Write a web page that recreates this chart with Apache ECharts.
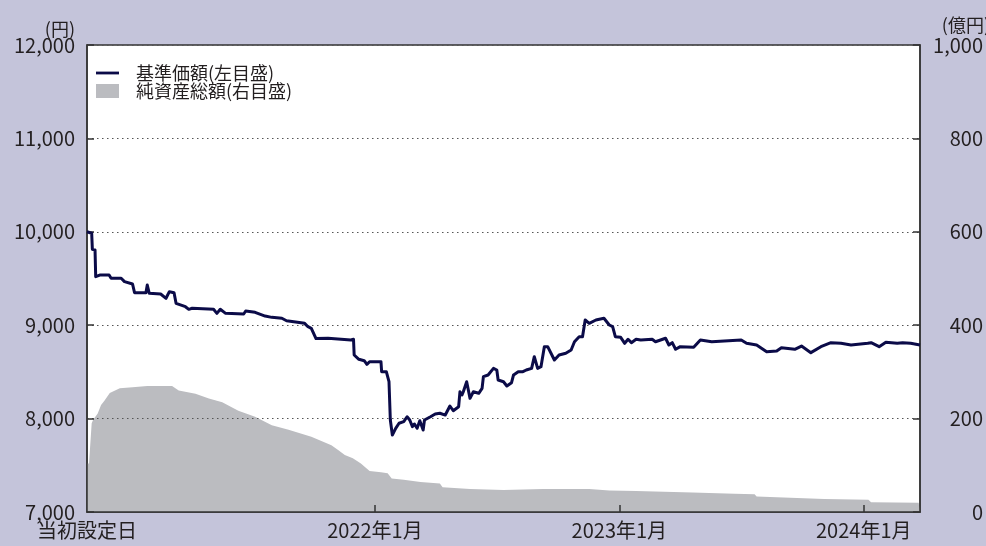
<!DOCTYPE html>
<html>
<head>
<meta charset="utf-8">
<script src="https://cdn.jsdelivr.net/npm/echarts@6/dist/echarts.min.js"></script>
<style>
html,body{margin:0;padding:0;background:#c4c4da;width:986px;height:546px;overflow:hidden;}
#main{width:986px;height:546px;}
</style>
</head>
<body>
<div id="main"></div>
<script>
// ---- Data ----
const seriesNames = ['基準価額(左目盛)', '純資産総額(右目盛)'];
const startDate = '2020-10-28';
const endDate = '2024-03-25';
const tickDates = ['2022-01-01', '2023-01-01', '2024-01-01'];
const tickLabels = ['当初設定日', '2022年1月', '2023年1月', '2024年1月'];
const leftTicks = [7000, 8000, 9000, 10000, 11000, 12000];
const rightTicks = [0, 200, 400, 600, 800, 1000];

const navDates = [
'2020-10-28','2020-11-04','2020-11-05','2020-11-09','2020-11-10','2020-11-16','2020-11-30','2020-12-03','2020-12-18','2020-12-23',
'2021-01-04','2021-01-07','2021-01-24','2021-01-26','2021-01-29','2021-02-15','2021-02-23','2021-02-28','2021-03-07','2021-03-10',
'2021-03-24','2021-03-29','2021-04-03','2021-05-05','2021-05-10','2021-05-15','2021-05-23','2021-06-19','2021-06-22','2021-07-06',
'2021-07-21','2021-07-31','2021-08-15','2021-08-22','2021-09-18','2021-09-23','2021-09-28','2021-10-05','2021-10-23','2021-11-26',
'2021-11-30','2021-12-01','2021-12-08','2021-12-16','2021-12-20','2021-12-24','2022-01-10','2022-01-11','2022-01-18','2022-01-22',
'2022-01-24','2022-01-27','2022-01-29','2022-02-01','2022-02-06','2022-02-13','2022-02-18','2022-02-22','2022-02-26','2022-03-01',
'2022-03-05','2022-03-09','2022-03-14','2022-03-16','2022-03-25','2022-04-01','2022-04-08','2022-04-16','2022-04-23','2022-04-28',
'2022-05-06','2022-05-08','2022-05-11','2022-05-13','2022-05-18','2022-05-23','2022-05-28','2022-06-05','2022-06-10','2022-06-12',
'2022-06-19','2022-06-27','2022-07-02','2022-07-04','2022-07-12','2022-07-17','2022-07-24','2022-07-27','2022-08-03','2022-08-10',
'2022-08-15','2022-08-23','2022-08-27','2022-09-01','2022-09-06','2022-09-11','2022-09-16','2022-09-26','2022-10-03','2022-10-13',
'2022-10-21','2022-10-26','2022-11-02','2022-11-07','2022-11-11','2022-11-17','2022-11-27','2022-12-09','2022-12-17','2022-12-22',
'2022-12-26','2023-01-03','2023-01-09','2023-01-14','2023-01-19','2023-01-26','2023-02-02','2023-02-19','2023-02-24','2023-03-11',
'2023-03-16','2023-03-21','2023-03-26','2023-04-02','2023-04-22','2023-05-02','2023-05-19','2023-07-02','2023-07-10','2023-07-25',
'2023-08-09','2023-08-24','2023-08-31','2023-09-20','2023-09-30','2023-10-14','2023-10-29','2023-11-13','2023-11-28','2023-12-13',
'2024-01-07','2024-01-12','2024-01-24','2024-02-03','2024-02-20','2024-02-28','2024-03-11','2024-03-25'
];
const navValues = [
10000,9984,9813,9805,9519,9537,9537,9502,9502,9466,
9441,9348,9348,9430,9341,9334,9288,9359,9348,9234,
9198,9170,9181,9170,9127,9170,9127,9120,9152,9138,
9098,9084,9074,9048,9020,8984,8967,8857,8860,8841,
8849,8681,8635,8620,8581,8609,8609,8502,8502,8395,
7985,7824,7806,7896,7950,7967,8020,7985,7913,7942,
7896,7977,7878,7985,8020,8049,8057,8038,8135,8084,
8127,8288,8253,8288,8395,8217,8288,8271,8324,8449,
8467,8538,8520,8413,8395,8349,8384,8467,8502,8502,
8520,8538,8663,8538,8556,8770,8770,8627,8681,8699,
8734,8823,8877,8877,9056,9020,9056,9074,9002,8984,
8877,8870,8806,8849,8813,8849,8841,8849,8823,8860,
8788,8813,8742,8770,8763,8841,8823,8841,8806,8788,
8716,8724,8759,8742,8777,8706,8770,8813,8806,8788,
8806,8813,8770,8817,8806,8813,8806,8788
];

const assetDates = [
'2020-10-28','2020-10-31','2020-11-04','2020-11-06','2020-11-13','2020-11-18','2020-11-23','2020-12-01','2020-12-16','2021-01-04',
'2021-01-26','2021-03-04','2021-03-14','2021-04-08','2021-04-28','2021-05-18','2021-06-11','2021-07-06','2021-07-31','2021-08-25',
'2021-09-28','2021-10-28','2021-11-07','2021-11-17','2021-11-29','2021-12-11','2021-12-24','2022-01-10','2022-01-20','2022-01-26',
'2022-02-13','2022-03-10','2022-04-08','2022-04-12','2022-05-23','2022-07-12','2022-09-09','2022-11-17','2022-12-17','2023-01-26',
'2023-04-20','2023-06-22','2023-07-22','2023-07-25','2023-11-03','2024-01-08','2024-01-12','2024-03-23','2024-03-25'
];
const assetValues = [
104,104,190,197,211,229,238,255,265,267,
270,270,260,253,243,235,217,204,186,176,
161,143,133,122,115,104,88,85,83,72,
69,64,61,53,49,47,49,49,46,45,
42,39,38,33,28,26,21,20,20
];

// ---- Chart ----
const FONT = '"Noto Sans CJK JP", "Noto Sans", sans-serif';
const TXT = '#231f20';
const toTime = d => Date.parse(d + 'T00:00:00Z');
const navData = navDates.map((d, i) => [toTime(d), navValues[i]]);
const assetData = assetDates.map((d, i) => [toTime(d), assetValues[i]]);
const tickTimes = tickDates.map(toTime);
const startTime = toTime(startDate);
const endTime = toTime(endDate);
const labelTimes = [startTime].concat(tickTimes);
const fmt = v => String(v).replace(/\B(?=(\d{3})+(?!\d))/g, ',');

const chart = echarts.init(document.getElementById('main'), null, {renderer: 'canvas', width: 986, height: 546});
chart.setOption({
  animation: false,
  backgroundColor: '#c4c4da',
  textStyle: {fontFamily: FONT},
  grid: {left: 87, right: 59, top: 45, bottom: 34, show: true, backgroundColor: '#ffffff', borderColor: '#333', borderWidth: 1.5, z: -3},
  legend: {
    left: 96, top: 64, orient: 'vertical', itemWidth: 23, itemHeight: 14, itemGap: 0, padding: 0,
    selectedMode: false, symbolKeepAspect: true,
    textStyle: {fontFamily: FONT, fontSize: 18, color: TXT, lineHeight: 17, padding: [0, 0, 0, 12]},
    data: [
      {name: seriesNames[0], icon: 'path://M0,0L23,0L23,2.8L0,2.8Z', itemStyle: {color: '#0b0b48'}},
      {name: seriesNames[1], icon: 'rect', itemStyle: {color: '#bbbcc0'}}
    ]
  },
  graphic: [
    {type: 'text', right: 911, top: 20, style: {text: '(円)', font: '18px ' + FONT, fill: TXT}},
    {type: 'text', right: -4, top: 16, style: {text: '(億円)', font: '18px ' + FONT, fill: TXT}}
  ],
  xAxis: {
    type: 'value', min: startTime, max: endTime,
    axisLine: {show: true, lineStyle: {color: '#333', width: 1.5}},
    axisTick: {show: true, inside: true, length: 7, customValues: tickTimes, lineStyle: {color: '#333', width: 1.5}},
    splitLine: {show: false},
    axisLabel: {
      customValues: labelTimes, margin: 8, fontSize: 20, color: TXT, fontFamily: FONT,
      formatter: function (v) {
        const idx = labelTimes.indexOf(+v);
        return idx >= 0 ? tickLabels[idx] : '';
      }
    }
  },
  yAxis: [
    {
      type: 'value', min: leftTicks[0], max: leftTicks[leftTicks.length - 1], interval: 1000, position: 'left',
      axisLine: {show: true, lineStyle: {color: '#333', width: 1.5}},
      axisTick: {show: true, inside: true, length: 7, lineStyle: {color: '#333', width: 1.5}},
      splitLine: {show: true, lineStyle: {color: '#555', type: [1.5, 3.5], width: 1.2}},
      axisLabel: {margin: 12, fontSize: 20, color: TXT, fontFamily: FONT, formatter: fmt}
    },
    {
      type: 'value', min: rightTicks[0], max: rightTicks[rightTicks.length - 1], interval: 200, position: 'right',
      axisLine: {show: true, lineStyle: {color: '#333', width: 1.5}},
      axisTick: {show: true, inside: true, length: 7, lineStyle: {color: '#333', width: 1.5}},
      splitLine: {show: false},
      axisLabel: {margin: 63, align: 'right', fontSize: 20, color: TXT, fontFamily: FONT, formatter: fmt}
    }
  ],
  series: [
    {
      name: seriesNames[1], type: 'line', yAxisIndex: 1, data: assetData, z: -1,
      symbol: 'none', color: '#bbbcc0',
      lineStyle: {width: 0, color: '#bbbcc0'},
      areaStyle: {color: '#bbbcc0', opacity: 1}
    },
    {
      name: seriesNames[0], type: 'line', yAxisIndex: 0, data: navData, z: 5,
      symbol: 'none', color: '#0b0b48',
      lineStyle: {width: 3, color: '#0b0b48', join: 'round'}
    }
  ]
});
</script>
</body>
</html>
